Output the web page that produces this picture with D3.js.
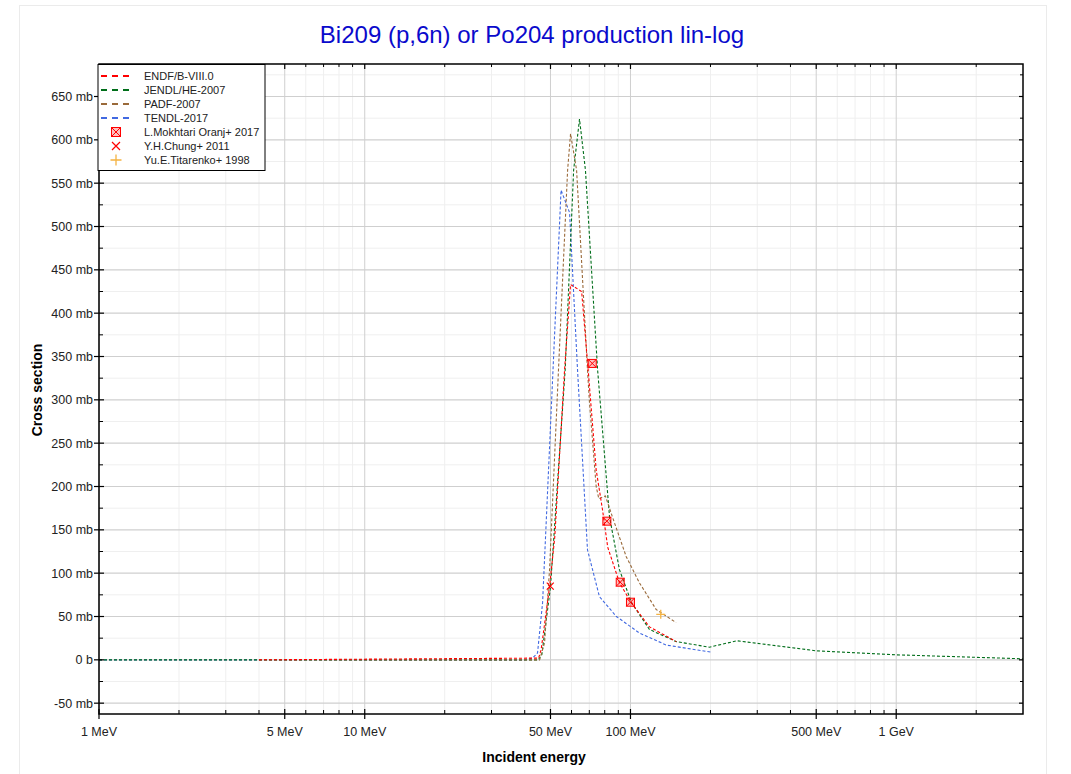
<!DOCTYPE html>
<html><head><meta charset="utf-8">
<script src="https://cdn.jsdelivr.net/npm/d3@7"></script>
<style>body{margin:0;background:#fff;}svg{display:block;font-family:Arial,"Liberation Sans",sans-serif;}</style>
</head><body><svg id="c" width="1071" height="774"></svg>
<script>
// ---------- data ----------
const titleText = "Bi209 (p,6n) or Po204 production lin-log";
const xTickValues = [1, 5, 10, 50, 100, 500, 1000];
const xTickLabels = ["1 MeV", "5 MeV", "10 MeV", "50 MeV", "100 MeV", "500 MeV", "1 GeV"];
const yTickValues = [-50, 0, 50, 100, 150, 200, 250, 300, 350, 400, 450, 500, 550, 600, 650];
const yTickLabels = ["-50 mb", "0 b", "50 mb", "100 mb", "150 mb", "200 mb", "250 mb", "300 mb", "350 mb", "400 mb", "450 mb", "500 mb", "550 mb", "600 mb", "650 mb"];

const endfE  = [4, 45.1, 46.1, 49.6, 51.9, 56.5, 59.5, 65.5, 68.9, 74.3, 78.5, 82.1, 90.9, 100.6, 117.9, 148.8];
const endfXS = [0, 2, 11.5, 84, 142, 335, 433, 425, 344, 219, 173, 130, 89, 66, 38, 21];

const jendlE  = [1, 45, 46.4, 50, 56.8, 61.1, 64.3, 67.7, 75.2, 83.4, 90.9, 100.9, 117.9, 148.8, 198, 252, 500, 1000, 3000];
const jendlXS = [0, 0, 6, 84, 335, 565, 624, 565, 335, 165, 104, 66, 35, 21, 14.6, 22, 10.4, 5.8, 1.2];

const padfE  = [4, 45.5, 47.5, 49.6, 50.9, 53.6, 58, 59.5, 62.7, 68.9, 70.1, 74.3, 76, 80.5, 85.5, 96.4, 108, 125, 148.5];
const padfXS = [0, 0, 19.6, 104, 181, 335, 565, 607, 565, 335, 297, 200, 186, 189, 165, 119, 89, 58, 43];

const tendlE  = [1, 40, 42.8, 44.7, 46.7, 54.8, 59, 63.2, 68.9, 76.4, 88.5, 108, 136.5, 200];
const tendlXS = [0, 0, 2, 8, 66, 542, 516, 335, 127, 73, 50, 31, 17, 9];

const mokhtariE  = [71.8, 81.5, 91.5, 100];
const mokhtariXS = [342, 160, 89.6, 66.5];
const chungE  = [49.9];
const chungXS = [85];
const titarenkoE  = [130];
const titarenkoXS = [52.5];

const seriesNames = ["ENDF/B-VIII.0", "JENDL/HE-2007", "PADF-2007", "TENDL-2017"];
const seriesColors = ["#ff0000", "#006e1a", "#9a6a3a", "#4169e1"];
const pointNames = ["L.Mokhtari Oranj+ 2017", "Y.H.Chung+ 2011", "Yu.E.Titarenko+ 1998"];
const pointColors = ["#ff0000", "#ff0000", "#f5b342"];

// ---------- layout ----------
const svg = d3.select("#c");
const L = 99, R = 1023, T = 64, B = 714;
const x = d3.scaleLog().domain([1, 3000]).range([L, R]);
const y = d3.scaleLinear().domain([-62.5, 687.5]).range([B, T]);

// outer frame
svg.append("rect").attr("x", 19.5).attr("y", 5.5).attr("width", 1027).attr("height", 780)
  .attr("fill", "#fff").attr("stroke", "#ebebeb").attr("stroke-width", 1);

// title
svg.append("text").attr("x", 532).attr("y", 43).attr("text-anchor", "middle")
  .attr("font-size", 24).attr("fill", "#0a0acc").text(titleText);

// grid
const g = svg.append("g");
const minorX = [];
[1, 10, 100, 1000].forEach(d => { for (let k = 2; k <= 9; k++) { const v = d * k; if (v < 3000 && !xTickValues.includes(v)) minorX.push(v); } });
const minorY = d3.range(-50, 700, 25).filter(v => !yTickValues.includes(v));
g.selectAll(".mgx").data(minorX).join("line").attr("x1", d => x(d)).attr("x2", d => x(d)).attr("y1", T).attr("y2", B)
  .attr("stroke", "#efefef").attr("stroke-width", 1);
g.selectAll(".mgy").data(minorY).join("line").attr("x1", L).attr("x2", R).attr("y1", d => y(d)).attr("y2", d => y(d))
  .attr("stroke", "#efefef").attr("stroke-width", 1);
g.selectAll(".Mgx").data(xTickValues).join("line").attr("x1", d => x(d)).attr("x2", d => x(d)).attr("y1", T).attr("y2", B)
  .attr("stroke", "#cfcfcf").attr("stroke-width", 1);
g.selectAll(".Mgy").data(yTickValues).join("line").attr("x1", L).attr("x2", R).attr("y1", d => y(d)).attr("y2", d => y(d))
  .attr("stroke", "#cfcfcf").attr("stroke-width", 1.2);

// curves
svg.append("clipPath").attr("id", "clp").append("rect").attr("x", L).attr("y", T).attr("width", R - L).attr("height", B - T);
const line = d3.line().x(d => x(d[0])).y(d => y(d[1]));
const seriesData = [
  d3.zip(tendlE, tendlXS),
  d3.zip(jendlE, jendlXS),
  d3.zip(padfE, padfXS),
  d3.zip(endfE, endfXS)
];
const drawOrder = [3, 1, 2, 0];
const cg = svg.append("g").attr("clip-path", "url(#clp)");
seriesData.forEach((s, i) => {
  const ci = drawOrder[i];
  cg.append("path").datum(s).attr("d", line).attr("fill", "none")
    .attr("stroke", seriesColors[ci]).attr("stroke-width", 1.1).attr("stroke-dasharray", "3,2");
});

// markers
function square(sel, cx, cy, s, col) {
  sel.append("rect").attr("x", cx - s / 2).attr("y", cy - s / 2).attr("width", s).attr("height", s)
    .attr("fill", "rgba(255,0,0,0.25)").attr("stroke", col).attr("stroke-width", 1);
  sel.append("path").attr("d", `M${cx - s / 2},${cy - s / 2}L${cx + s / 2},${cy + s / 2}M${cx + s / 2},${cy - s / 2}L${cx - s / 2},${cy + s / 2}`)
    .attr("stroke", col).attr("stroke-width", 1);
}
function cross(sel, cx, cy, s, col) {
  sel.append("path").attr("d", `M${cx - s / 2},${cy - s / 2}L${cx + s / 2},${cy + s / 2}M${cx + s / 2},${cy - s / 2}L${cx - s / 2},${cy + s / 2}`)
    .attr("stroke", col).attr("stroke-width", 1.2);
}
function plus(sel, cx, cy, s, col) {
  sel.append("path").attr("d", `M${cx - s / 2},${cy}L${cx + s / 2},${cy}M${cx},${cy - s / 2}L${cx},${cy + s / 2}`)
    .attr("stroke", col).attr("stroke-width", 1.3);
}
const mg = svg.append("g");
d3.zip(mokhtariE, mokhtariXS).forEach(d => square(mg, x(d[0]), y(d[1]), 8, pointColors[0]));
d3.zip(chungE, chungXS).forEach(d => cross(mg, x(d[0]), y(d[1]), 7, pointColors[1]));
d3.zip(titarenkoE, titarenkoXS).forEach(d => plus(mg, x(d[0]), y(d[1]), 9, pointColors[2]));

// frame
svg.append("rect").attr("x", L).attr("y", T).attr("width", R - L).attr("height", B - T)
  .attr("fill", "none").attr("stroke", "#000").attr("stroke-width", 1.5);

// axes ticks
const ax = svg.append("g");
ax.selectAll(".xt").data(xTickValues).join("line").attr("x1", d => x(d)).attr("x2", d => x(d))
  .attr("y1", B - 5).attr("y2", B + 5).attr("stroke", "#000").attr("stroke-width", 1.2);
ax.selectAll(".xtt").data(xTickValues).join("line").attr("x1", d => x(d)).attr("x2", d => x(d))
  .attr("y1", T).attr("y2", T + 5).attr("stroke", "#000").attr("stroke-width", 1.2);
ax.selectAll(".xm").data(minorX).join("line").attr("x1", d => x(d)).attr("x2", d => x(d))
  .attr("y1", B - 4).attr("y2", B).attr("stroke", "#000").attr("stroke-width", 1);
ax.selectAll(".xmt").data(minorX).join("line").attr("x1", d => x(d)).attr("x2", d => x(d))
  .attr("y1", T).attr("y2", T + 3).attr("stroke", "#000").attr("stroke-width", 1);
ax.selectAll(".xl").data(xTickValues).join("text").attr("x", d => x(d)).attr("y", B + 22)
  .attr("text-anchor", "middle").attr("font-size", 12.5).attr("fill", "#222").text((d, i) => xTickLabels[i]);
ax.selectAll(".yt").data(yTickValues).join("line").attr("x1", L - 5).attr("x2", L + 5)
  .attr("y1", d => y(d)).attr("y2", d => y(d)).attr("stroke", "#000").attr("stroke-width", 1.2);
ax.selectAll(".ytr").data(yTickValues).join("line").attr("x1", R - 4).attr("x2", R)
  .attr("y1", d => y(d)).attr("y2", d => y(d)).attr("stroke", "#000").attr("stroke-width", 1.2);
ax.selectAll(".ym").data(minorY).join("line").attr("x1", L).attr("x2", L + 4)
  .attr("y1", d => y(d)).attr("y2", d => y(d)).attr("stroke", "#000").attr("stroke-width", 1);
ax.selectAll(".ymr").data(minorY).join("line").attr("x1", R - 3).attr("x2", R)
  .attr("y1", d => y(d)).attr("y2", d => y(d)).attr("stroke", "#000").attr("stroke-width", 1);
ax.selectAll(".yl").data(yTickValues).join("text").attr("x", L - 6).attr("y", d => y(d) + 4.5)
  .attr("text-anchor", "end").attr("font-size", 12.5).attr("fill", "#222").text((d, i) => yTickLabels[i]);

// axis titles
svg.append("text").attr("x", 534).attr("y", 762).attr("text-anchor", "middle")
  .attr("font-size", 14).attr("font-weight", "bold").text("Incident energy");
svg.append("text").attr("transform", "translate(42,390) rotate(-90)").attr("text-anchor", "middle")
  .attr("font-size", 14).attr("font-weight", "bold").text("Cross section");

// legend
const lg = svg.append("g");
lg.append("rect").attr("x", 98).attr("y", 64.5).attr("width", 167).attr("height", 106)
  .attr("fill", "#fff").attr("stroke", "#000").attr("stroke-width", 1);
const ly0 = 76, lstep = 14;
seriesNames.forEach((n, i) => {
  const yy = ly0 + i * lstep;
  lg.append("line").attr("x1", 101).attr("x2", 131).attr("y1", yy).attr("y2", yy)
    .attr("stroke", seriesColors[i]).attr("stroke-width", 2).attr("stroke-dasharray", "6,5");
  lg.append("text").attr("x", 144).attr("y", yy + 4).attr("font-size", 11).attr("fill", "#222").text(n);
});
pointNames.forEach((n, i) => {
  const yy = ly0 + (i + 4) * lstep;
  if (i === 0) square(lg, 116, yy, 9, pointColors[0]);
  if (i === 1) cross(lg, 116, yy, 8, pointColors[1]);
  if (i === 2) plus(lg, 116, yy, 11, pointColors[2]);
  lg.append("text").attr("x", 144).attr("y", yy + 4).attr("font-size", 11).attr("fill", "#222").text(n);
});
</script></body></html>
